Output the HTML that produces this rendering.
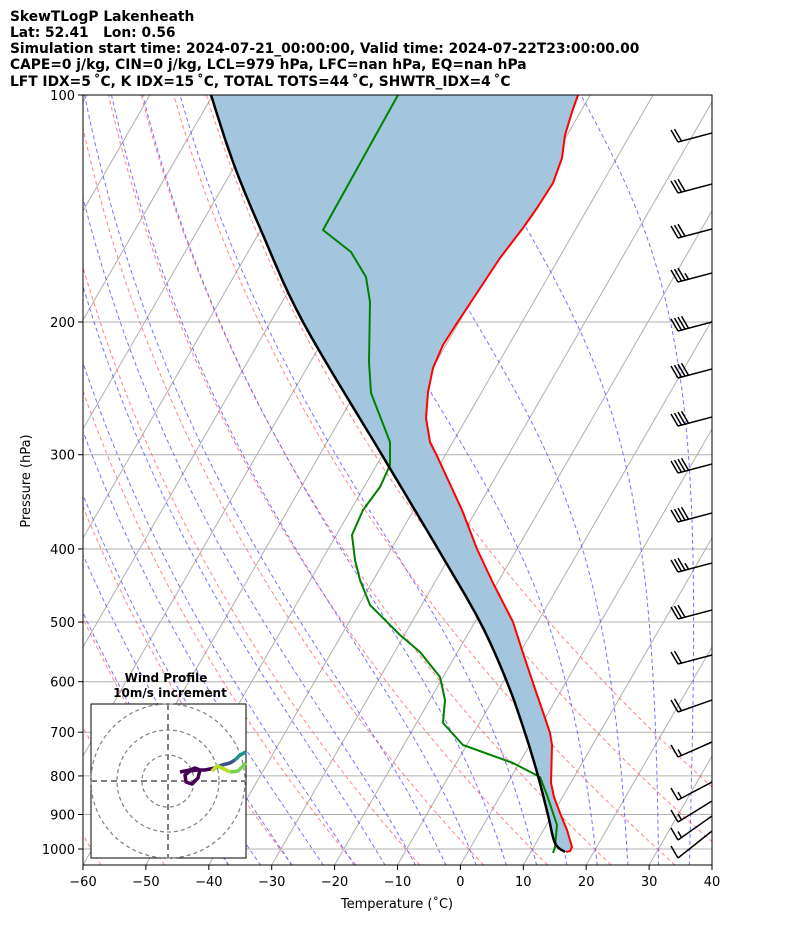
<!DOCTYPE html>
<html><head><meta charset="utf-8"><style>
body{margin:0;background:#fff;}
svg{display:block;font-family:"DejaVu Sans","Liberation Sans",sans-serif;}
</style></head><body>
<svg id="s" width="794" height="937" xmlns="http://www.w3.org/2000/svg">
<defs><clipPath id="c"><rect x="83" y="95" width="629" height="770"/></clipPath></defs>
<g font-weight="bold" font-size="13.8" fill="#000" style="white-space:pre">
<text x="10" y="21">SkewTLogP Lakenheath</text>
<text x="10" y="37" xml:space="preserve">Lat: 52.41   Lon: 0.56</text>
<text x="10" y="53">Simulation start time: 2024-07-21_00:00:00, Valid time: 2024-07-22T23:00:00.00</text>
<text x="10" y="69">CAPE=0 j/kg, CIN=0 j/kg, LCL=979 hPa, LFC=nan hPa, EQ=nan hPa</text>
<text id="t5" x="10" y="86">LFT IDX=5</text>
</g>
<g id="grid" clip-path="url(#c)"></g>
<g id="data" clip-path="url(#c)"></g>
<g id="axes"></g>
</svg>
<script>
const NS="http://www.w3.org/2000/svg";
function el(p,t,a){const e=document.createElementNS(NS,t);for(const k in a)e.setAttribute(k,a[k]);p.appendChild(e);return e;}
const Y=p=>95+754*Math.log10(p/100);
const X=(T,p)=>83+(T+60)*6.29+(865-Y(p))*0.577;
document.getElementById('t5').textContent="LFT IDX=5\u2009\u02daC, K IDX=15\u2009\u02daC, TOTAL TOTS=44\u2009\u02daC, SHWTR_IDX=4\u2009\u02daC";
const g=document.getElementById('grid'),d=document.getElementById('data'),ax=document.getElementById('axes');
for(let p=100;p<=1000;p+=100)el(g,'line',{x1:83,x2:712,y1:Y(p),y2:Y(p),stroke:'#b0b0b0','stroke-width':1});
for(let T=-170;T<=40;T+=10)el(g,'line',{x1:X(T,1050),y1:865,x2:X(T,100),y2:95,stroke:'#b0b0b0','stroke-width':1});
const ps=[];for(let p=1050;p>=100;p-=5)ps.push(p);
for(let th=193;th<=323;th+=10){let pts=ps.map(p=>X(th*Math.pow(p/1000,0.2857)-273.15,p).toFixed(1)+','+Y(p).toFixed(1));
el(g,'polyline',{points:pts.join(' '),fill:'none',stroke:'#ff5050','stroke-width':1,'stroke-dasharray':'4,3','stroke-opacity':0.7});}
function dTdp(p,T){const es=6.112*Math.exp(17.67*(T-273.15)/(T-29.65));const rs=0.622*es/(p-es);
const num=287*T+2.5e6*rs,den=1005+2.5e6*2.5e6*rs*0.622/(287*T*T);return num/den/p;}
for(let T0=-40;T0<=35;T0+=5){let T=T0+273.15,arr=[];let p=1000;
for(;p>=100;p-=2){arr.push([p,T]);T-=dTdp(p,T)*2;}
T=T0+273.15;let lo=[];for(p=1000;p<=1052;p+=2){lo.unshift([p,T]);T+=dTdp(p,T)*2;}
arr=lo.concat(arr);
el(g,'polyline',{points:arr.map(a=>X(a[1]-273.15,a[0]).toFixed(1)+','+Y(a[0]).toFixed(1)).join(' '),fill:'none',stroke:'#5050ff','stroke-width':1,'stroke-dasharray':'4,3','stroke-opacity':0.8});}
function smooth(pts,n){const out=[];for(let i=0;i<pts.length-1;i++){const p0=pts[Math.max(i-1,0)],p1=pts[i],p2=pts[i+1],p3=pts[Math.min(i+2,pts.length-1)];
for(let k=0;k<n;k++){const t=k/n,t2=t*t,t3=t2*t;out.push([0,1].map(j=>0.5*(2*p1[j]+(-p0[j]+p2[j])*t+(2*p0[j]-5*p1[j]+4*p2[j]-p3[j])*t2+(-p0[j]+3*p1[j]-3*p2[j]+p3[j])*t3)));}}
out.push(pts[pts.length-1]);return out.map(q=>[+q[0].toFixed(1),+q[1].toFixed(1)]);}
const temp=[[578,95],[572,112],[565,135],[562,158],[553,183],[537,208],[523,228],[500,258],[467,308],[457,323],[443,345],[433,368],[428,392],[426,418],[430,442],[437,456],[462,510],[477,549],[493,583],[513,622],[522,650],[533,683],[545,718],[550,733],[552,745],[551,783],[554,797],[560,813],[567,830],[572,847],[570,851],[566,852]];
const parc=smooth([[211,95],[233,162],[260,228],[303,322],[382,455],[438,549],[480,622],[507,682],[525,733],[538,776],[548,815],[555,843],[565,852]],8);
const dew=[[398,95],[323,230],[351,252],[366,277],[370,302],[369,362],[371,393],[390,442],[390,465],[380,487],[363,510],[352,535],[355,560],[360,580],[370,605],[400,635],[420,652],[440,677],[445,700],[443,723],[463,745],[513,763],[540,777],[547,795],[557,825],[555,847],[553,853]];
const P=a=>a.map(q=>q.join(',')).join(' ');
el(d,'polygon',{points:P(parc.concat(temp.slice().reverse())),fill:'#a3c6de'});
el(d,'polyline',{points:P(temp),fill:'none',stroke:'#ff0000','stroke-width':2,'stroke-linejoin':'round'});
el(d,'polyline',{points:P(dew),fill:'none',stroke:'#008000','stroke-width':2,'stroke-linejoin':'round'});
el(d,'polyline',{points:P(parc),fill:'none',stroke:'#000','stroke-width':2.5,'stroke-linejoin':'round'});
const barbs=[[142,2],[193,3],[238,3],[282,3.5],[331,4],[378,4],[426,4],[473,4],[522,4],[572,3.5],[619,3],[664,2],[712,2],[757,1.5],[800,1.5],[822,1.5],[840,1.5],[858,1]];
barbs.forEach(([y,n],i)=>{const x0=678;const dy=i<12?-9:-(12+(i-12)*3);
el(d,'line',{x1:x0,y1:y,x2:712+40,y2:y+dy*(74/34),stroke:'#000','stroke-width':1.5});
for(let k=0;k<Math.ceil(n);k++){const bx=x0+k*3.5,by=y+dy*(k*3.5/34);const len=(k==Math.floor(n))?0.5:1;
el(d,'line',{x1:bx,y1:by,x2:bx-7*len,y2:by-12*len,stroke:'#000','stroke-width':1.5});}});
el(ax,'rect',{x:83,y:95,width:629,height:770,fill:'none',stroke:'#000','stroke-width':1});
for(let T=-60;T<=40;T+=10){const x=83+(T+60)*6.29;el(ax,'line',{x1:x,x2:x,y1:865,y2:870,stroke:'#000'});
const t=el(ax,'text',{x:x,y:886,'text-anchor':'middle','font-size':13});t.textContent=(T<0?'\u2212'+(-T):T);}
for(let p=100;p<=1000;p+=100){el(ax,'line',{x1:78,x2:83,y1:Y(p),y2:Y(p),stroke:'#000'});
const t=el(ax,'text',{x:75,y:Y(p)+5,'text-anchor':'end','font-size':13});t.textContent=p;}
let t=el(ax,'text',{x:397,y:908,'text-anchor':'middle','font-size':13});t.textContent='Temperature (\u02daC)';
t=el(ax,'text',{x:30,y:481,'text-anchor':'middle','font-size':13,transform:'rotate(-90 30 481)'});t.textContent='Pressure (hPa)';
const h=el(ax,'g',{});
el(h,'rect',{x:91,y:704,width:155,height:154,fill:'#fff',stroke:'#000','stroke-width':1});
const hc=el(h,'g',{});
[26,51,77].forEach(r=>el(hc,'circle',{cx:168,cy:781,r:r,fill:'none',stroke:'#808080','stroke-dasharray':'4,3','stroke-width':1.2}));
el(hc,'line',{x1:168,x2:168,y1:704,y2:858,stroke:'#808080','stroke-width':2,'stroke-dasharray':'6,4'});
el(hc,'line',{x1:91,x2:246,y1:781,y2:781,stroke:'#808080','stroke-width':2,'stroke-dasharray':'6,4'});
const segs=[['#440154','180,772 190,770 195,768 200,770 198,778 192,784 186,782 185,775 190,771 197,770 205,770 210,769 215,768'],
['#3b528b','215,768 222,765 230,763 235,760'],['#21918c','235,760 240,755 246,752'],
['#bddf26','212,771 217,766 222,768 230,772'],['#7ad151','230,772 238,771 243,766 246,763']];
segs.forEach(s=>el(hc,'polyline',{points:s[1],fill:'none',stroke:s[0],'stroke-width':3.5,'stroke-linejoin':'round'}));
t=el(ax,'text',{x:166,y:682,'text-anchor':'middle','font-size':12,'font-weight':'bold'});t.textContent='Wind Profile';
t=el(ax,'text',{x:170,y:697,'text-anchor':'middle','font-size':12,'font-weight':'bold'});t.textContent='10m/s increment';
</script>
</body></html>
